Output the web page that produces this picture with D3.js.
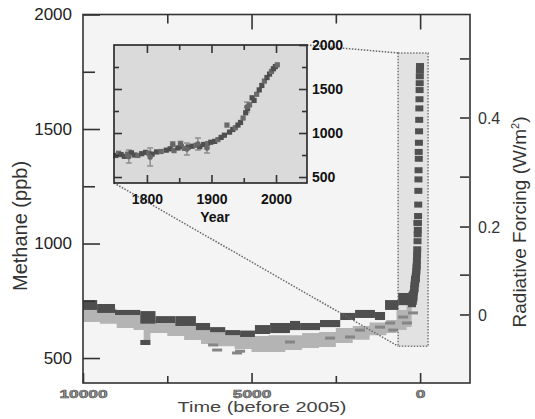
<!DOCTYPE html>
<html><head><meta charset="utf-8">
<script src="https://cdn.jsdelivr.net/npm/d3@7"></script>
<style>body{margin:0;background:#fff}svg{display:block}text{font-family:"Liberation Sans",Arial,sans-serif}</style>
</head><body>
<svg id="c" width="535" height="419"></svg>
<script>
// ---------- data ----------
// dark ice-core series: bins in years before 2005
const darkStart = [10000, 9580, 9050, 8300, 8300, 7850, 7260, 6650, 6230, 5780, 5340, 4900, 4450, 3860, 3560, 2970, 2370, 1930, 1340, 1040, 650];
const darkEnd   = [9580, 9050, 8300, 7850, 8000, 7260, 6650, 6230, 5780, 5340, 4900, 4450, 3860, 3560, 2970, 2370, 1930, 1340, 1040, 650, 300];
const darkLo    = [710, 697, 688, 650, 557, 653, 640, 622, 613, 600, 592, 605, 609, 622, 622, 635, 666, 675, 666, 710, 731];
const darkHi    = [753, 736, 710, 705, 579, 683, 683, 653, 635, 622, 620, 644, 653, 662, 653, 666, 697, 710, 701, 753, 784];
// light ice-core band
const lightT  = [10000, 9500, 9000, 8500, 8200, 8000, 7500, 7000, 6500, 6000, 5500, 5000, 4500, 4000, 3500, 3000, 2500, 2000, 1500, 1000, 700, 400, 250];
const lightHi = [730, 715, 697, 688, 675, 666, 657, 640, 622, 614, 605, 596, 600, 600, 609, 614, 631, 640, 655, 666, 710, 753, 760];
const lightLo = [657, 650, 631, 622, 579, 609, 596, 579, 561, 552, 539, 526, 526, 535, 544, 548, 566, 580, 600, 609, 622, 635, 640];
// medium grey individual samples
const midT   = [6140, 6020, 5430, 5340, 3860, 2670, 2080, 1780, 1190, 890, 800, 500, 390, 390, 210];
const midPpb = [557, 535, 522, 530, 570, 587, 592, 622, 635, 653, 622, 679, 653, 766, 697];
// industrial era (year AD)
const modernYear = [1752,1756,1760,1765,1770,1776,1781,1786,1792,1798,1803,1808,1815,1822,1830,1836,1842,1848,1853,1858,1864,1870,1876,1882,1888,1894,1899,1905,1910,1915,1920,1924,1928,1933,1937,1941,1945,1949,1953,1956,1959,1963,1966,1970,1974,1978,1982,1986,1990,1993,1996,1999,2002];
const modernPpb  = [745,770,755,735,760,775,750,745,765,780,770,760,785,790,805,820,800,830,845,825,840,850,860,845,870,880,895,905,925,950,975,1090,1010,1040,1060,1090,1120,1170,1230,1280,1320,1400,1370,1440,1490,1540,1590,1630,1670,1700,1730,1755,1775];
const errYear = [1772, 1805, 1840, 1852, 1862, 1879, 1893, 1955];
const errLo   = [659, 625, 845, 850, 750, 807, 773, 1238];
const errHi   = [807, 830, 900, 905, 886, 943, 886, 1352];
// axes
const ppbTicks = [500, 1000, 1500, 2000];
const ppbMinor = [750, 1250, 1750];
const timeTicks = [10000, 5000, 0];
const timeMinor = [7500, 2500];
const forcingTicks = [0, 0.1, 0.2, 0.3, 0.4, 0.5];
const forcingPpb   = [688, 862, 1072, 1290, 1548, 1806];
const yearTicks = [1800, 1900, 2000];
const yearMinor = [1850, 1950];
const insetPpbTicks = [500, 1000, 1500, 2000];
const insetPpbMinor = [750, 1250, 1750];
// zoom window (years before 2005, ppb)
const zoomT = [653, -237];
const zoomPpb = [552, 1832];

// ---------- scales ----------
const svg = d3.select("#c");
const x = d3.scaleLinear().domain([10000, -1480]).range([83, 470]);
const y = d3.scaleLinear().domain([391, 2000]).range([383, 14.5]);
const ix = d3.scaleLinear().domain([1749, 2048]).range([114, 307]);
const iy = d3.scaleLinear().domain([432, 2000]).range([183, 45]);

const X0 = x(10000), X1 = x(-1480), Y0 = y(2000), Y1 = y(391);

svg.append("rect").attr("x", X0).attr("y", Y0).attr("width", X1 - X0).attr("height", Y1 - Y0).attr("fill", "#f4f4f4");

// zoom window
svg.append("rect")
  .attr("x", x(zoomT[0])).attr("y", y(zoomPpb[1]))
  .attr("width", x(zoomT[1]) - x(zoomT[0])).attr("height", y(zoomPpb[0]) - y(zoomPpb[1]))
  .attr("fill", "#e2e2e2").attr("stroke", "#777").attr("stroke-width", 1.5).attr("stroke-dasharray", "1.5,1.5");

// light band
const lightData = lightT.map((t, i) => ({t, lo: lightLo[i], hi: lightHi[i]}));
svg.append("path").datum(lightData)
  .attr("d", d3.area().x(d => x(d.t)).y0(d => y(d.lo)).y1(d => y(d.hi)).curve(d3.curveStepAfter))
  .attr("fill", "#b4b4b4");

// medium samples
svg.selectAll(".mid").data(midT).join("rect")
  .attr("x", d => x(d) - 5).attr("width", 10)
  .attr("y", (d, i) => y(midPpb[i]) - 1.5).attr("height", 3)
  .attr("fill", "#858585");

// dark boxes
svg.selectAll(".dark").data(darkStart).join("rect")
  .attr("x", d => x(d)).attr("width", (d, i) => x(darkEnd[i]) - x(d))
  .attr("y", (d, i) => y(darkHi[i])).attr("height", (d, i) => y(darkLo[i]) - y(darkHi[i]))
  .attr("fill", "#4e4e4e");

// modern spike
svg.selectAll(".sp").data(modernYear).join("rect")
  .attr("x", d => x(2005 - d) - 4).attr("width", 8)
  .attr("y", (d, i) => y(modernPpb[i]) - 3).attr("height", 6)
  .attr("fill", "#505050");

// connector lines
const dotted = g => g.attr("stroke", "#666").attr("stroke-width", 1.5).attr("stroke-dasharray", "1.5,1.5").attr("fill", "none");
svg.append("line").attr("x1", ix(2048)).attr("y1", iy(2000)).attr("x2", x(zoomT[0])).attr("y2", y(zoomPpb[1])).call(dotted);
svg.append("line").attr("x1", ix(1749)).attr("y1", iy(432)).attr("x2", x(zoomT[0])).attr("y2", y(zoomPpb[0])).call(dotted);

// frame
svg.append("rect").attr("x", X0).attr("y", Y0).attr("width", X1 - X0).attr("height", Y1 - Y0)
  .attr("fill", "none").attr("stroke", "#333").attr("stroke-width", 1.6);

const styleAxis = (g, fs, col, weight) => {
  g.select(".domain").remove();
  g.selectAll(".tick line").attr("stroke", "#333").attr("stroke-width", 1.6);
  g.selectAll(".tick text").attr("font-size", fs).attr("fill", col).attr("font-weight", weight || "normal")
    .attr("font-family", '"Liberation Sans",Arial,sans-serif');
};

// left axis
svg.append("g").attr("transform", `translate(${X0},0)`)
  .call(d3.axisLeft(y).tickValues(ppbTicks).tickSize(-17).tickPadding(11).tickFormat(d3.format("d")))
  .call(g => styleAxis(g, 17, "#222"));
svg.append("g").attr("transform", `translate(${X0},0)`)
  .call(d3.axisLeft(y).tickValues(ppbMinor).tickSize(-12).tickFormat(""))
  .call(g => styleAxis(g, 17, "#222"));

// right axis (radiative forcing)
const rf = svg.append("g").attr("transform", `translate(${X1 - 1},0)`);
rf.selectAll("line").data(forcingPpb).join("line")
  .attr("x1", 0).attr("x2", -9).attr("y1", d => y(d)).attr("y2", d => y(d))
  .attr("stroke", "#333").attr("stroke-width", 1.6);
rf.selectAll("text").data(forcingTicks.filter((d, i) => i % 2 === 0)).join("text")
  .attr("x", 9).attr("y", (d, i) => y(forcingPpb[i * 2])).attr("dy", "0.35em")
  .attr("font-size", 16).attr("fill", "#333").text(d => d === 0 ? "0" : d3.format(".1f")(d));

// bottom axis
svg.append("g").attr("transform", `translate(0,${Y1})`)
  .call(d3.axisBottom(x).tickValues(timeTicks).tickSize(-10).tickPadding(7).tickFormat(d3.format("d")))
  .call(g => styleAxis(g, 11, "#999", "bold"))
  .call(g => g.selectAll(".tick text").attr("stroke", "#444").attr("stroke-width", 0.5)
    .attr("textLength", d => String(d).length * 9.6).attr("lengthAdjust", "spacingAndGlyphs"));
svg.append("g").attr("transform", `translate(0,${Y1})`)
  .call(d3.axisBottom(x).tickValues(timeMinor).tickSize(-7).tickFormat(""))
  .call(g => styleAxis(g, 11, "#999"));
// top ticks
svg.append("g").attr("transform", `translate(0,${Y0})`)
  .call(d3.axisTop(x).tickValues([5000, 0]).tickSize(-15).tickFormat(""))
  .call(g => styleAxis(g, 11, "#999"));
svg.append("g").attr("transform", `translate(0,${Y0})`)
  .call(d3.axisTop(x).tickValues(timeMinor).tickSize(-9).tickFormat(""))
  .call(g => styleAxis(g, 11, "#999"));

// axis titles
svg.append("text").attr("transform", "translate(27,226) rotate(-90)").attr("text-anchor", "middle")
  .attr("font-size", 20).attr("fill", "#333").text("Methane (ppb)");
const rt = svg.append("text").attr("transform", "translate(526,222) rotate(-90)").attr("text-anchor", "middle")
  .attr("font-size", 19).attr("fill", "#333");
rt.append("tspan").text("Radiative Forcing (W/m");
rt.append("tspan").attr("font-size", 11).attr("dy", -7).text("2");
rt.append("tspan").attr("dy", 7).text(")");
svg.append("text").attr("x", 262).attr("y", 412).attr("text-anchor", "middle")
  .attr("font-size", 14).attr("fill", "#444").attr("textLength", 169).attr("lengthAdjust", "spacingAndGlyphs")
  .text("Time (before 2005)");

// ---------- inset ----------
const IX0 = ix(1749), IX1 = ix(2048), IY0 = iy(2000), IY1 = iy(432);
svg.append("rect").attr("x", IX0).attr("y", IY0).attr("width", IX1 - IX0).attr("height", IY1 - IY0)
  .attr("fill", "#dadada");

// error bars
const eb = svg.append("g").attr("stroke", "#8a8a8a").attr("stroke-width", 1.4);
errYear.forEach((yr, i) => {
  eb.append("line").attr("x1", ix(yr)).attr("x2", ix(yr)).attr("y1", iy(errLo[i])).attr("y2", iy(errHi[i]));
  eb.append("line").attr("x1", ix(yr) - 3).attr("x2", ix(yr) + 3).attr("y1", iy(errLo[i])).attr("y2", iy(errLo[i]));
  eb.append("line").attr("x1", ix(yr) - 3).attr("x2", ix(yr) + 3).attr("y1", iy(errHi[i])).attr("y2", iy(errHi[i]));
});
svg.selectAll(".im").data(modernYear).join("rect")
  .attr("x", d => ix(d) - 2.6).attr("width", 5.2)
  .attr("y", (d, i) => iy(modernPpb[i]) - 2.6).attr("height", 5.2)
  .attr("fill", (d, i) => i % 3 === 1 ? "#6a6a6a" : "#4e4e4e");
svg.selectAll(".ie").data(errYear).join("circle")
  .attr("cx", d => ix(d)).attr("cy", (d, i) => iy((errLo[i] + errHi[i]) / 2)).attr("r", 2.8)
  .attr("fill", "#666");

svg.append("rect").attr("x", IX0).attr("y", IY0).attr("width", IX1 - IX0).attr("height", IY1 - IY0)
  .attr("fill", "none").attr("stroke", "#222").attr("stroke-width", 1.6);

svg.append("g").attr("transform", `translate(0,${IY1})`)
  .call(d3.axisBottom(ix).tickValues(yearTicks).tickSize(-8).tickPadding(11).tickFormat(d3.format("d")))
  .call(g => styleAxis(g, 14, "#111", "bold"));
svg.append("g").attr("transform", `translate(0,${IY1})`)
  .call(d3.axisBottom(ix).tickValues(yearMinor).tickSize(-5).tickFormat(""))
  .call(g => styleAxis(g, 14, "#111"));
svg.append("g").attr("transform", `translate(0,${IY0})`)
  .call(d3.axisTop(ix).tickValues(yearTicks).tickSize(-8).tickFormat(""))
  .call(g => styleAxis(g, 14, "#111"));
svg.append("g").attr("transform", `translate(0,${IY0})`)
  .call(d3.axisTop(ix).tickValues(yearMinor).tickSize(-5).tickFormat(""))
  .call(g => styleAxis(g, 14, "#111"));
svg.append("g").attr("transform", `translate(${IX1},0)`)
  .call(d3.axisRight(iy).tickValues(insetPpbTicks).tickSize(-8).tickPadding(5).tickFormat(d3.format("d")))
  .call(g => styleAxis(g, 14, "#111", "bold"));
svg.append("g").attr("transform", `translate(${IX1},0)`)
  .call(d3.axisRight(iy).tickValues(insetPpbMinor).tickSize(-5).tickFormat(""))
  .call(g => styleAxis(g, 14, "#111"));
svg.append("g").attr("transform", `translate(${IX0},0)`)
  .call(d3.axisLeft(iy).tickValues(insetPpbTicks.slice(0, 3)).tickSize(-8).tickFormat(""))
  .call(g => styleAxis(g, 14, "#111"));
svg.append("g").attr("transform", `translate(${IX0},0)`)
  .call(d3.axisLeft(iy).tickValues(insetPpbMinor).tickSize(-5).tickFormat(""))
  .call(g => styleAxis(g, 14, "#111"));
svg.append("text").attr("x", 215).attr("y", 222).attr("text-anchor", "middle")
  .attr("font-size", 14).attr("font-weight", "bold").attr("fill", "#111").text("Year");
</script>
</body></html>
